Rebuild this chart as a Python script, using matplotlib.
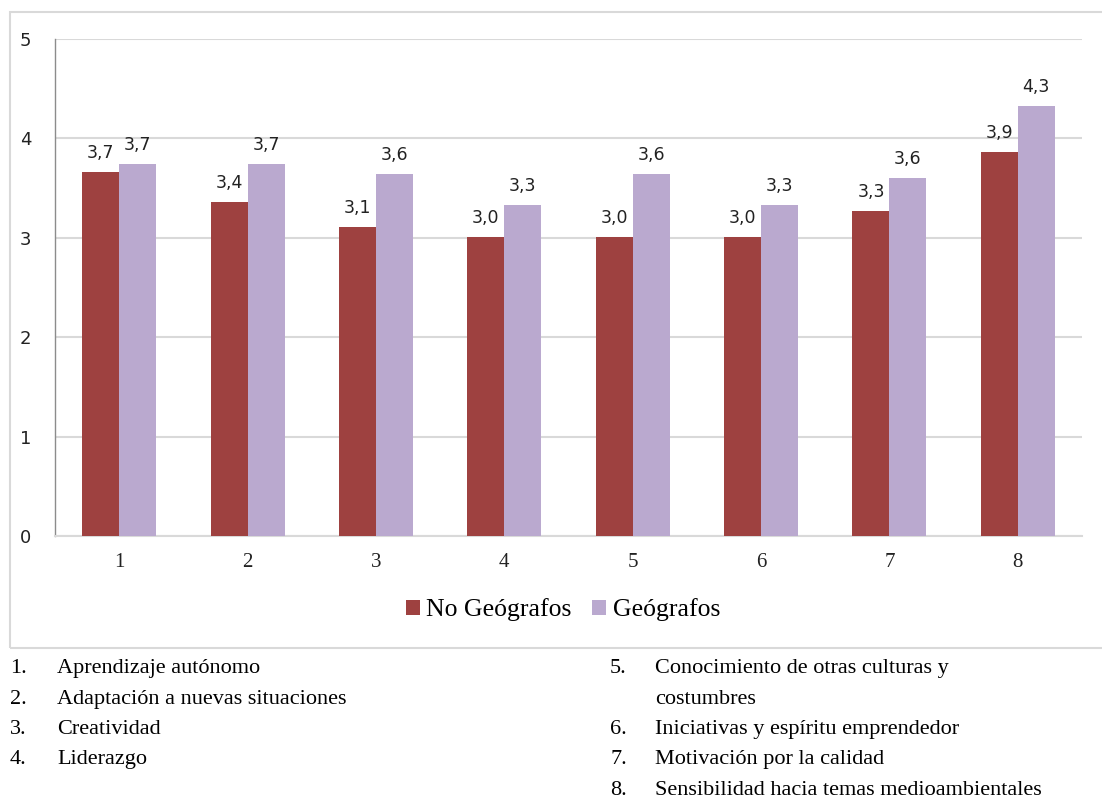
import matplotlib
matplotlib.use("Agg")
import matplotlib.pyplot as plt
from matplotlib.patches import Rectangle, Patch
import numpy as np

categories = ["1", "2", "3", "4", "5", "6", "7", "8"]
no_geografos = [3.66, 3.36, 3.11, 3.01, 3.01, 3.01, 3.27, 3.86]
geografos = [3.74, 3.74, 3.64, 3.33, 3.64, 3.33, 3.60, 4.33]
series_names = ["No Geógrafos", "Geógrafos"]
yticks = [0, 1, 2, 3, 4, 5]
notes_left = ["Aprendizaje autónomo", "Adaptación a nuevas situaciones", "Creatividad", "Liderazgo"]
notes_right = [["Conocimiento de otras culturas y", "costumbres"], ["Iniciativas y espíritu emprendedor"],
               ["Motivación por la calidad"], ["Sensibilidad hacia temas medioambientales"]]

RED = "#9E4140"
PURPLE = "#BAA9CF"
SERIF = ["Liberation Serif", "DejaVu Serif"]
SANS = ["DejaVu Sans"]

fig = plt.figure(figsize=(11.02, 7.98), dpi=100)
W, H = 1102, 798

# outer chart border
fig.patches.append(Rectangle((10 / W, 1 - 648 / H), 1.2, (648 - 12) / H, transform=fig.transFigure,
                             fill=False, edgecolor="#d9d9d9", linewidth=1.5, zorder=0))

ax = fig.add_axes([55 / W, 1 - 536 / H, (1082 - 55) / W, (536 - 39) / H])
x = np.arange(1, len(categories) + 1)
bw = 0.288
b1 = ax.bar(x - bw / 2, no_geografos, bw, color=RED, zorder=3)
b2 = ax.bar(x + bw / 2, geografos, bw, color=PURPLE, zorder=3)

for bars in (b1, b2):
    for rect in bars:
        v = rect.get_height()
        ax.text(rect.get_x() + rect.get_width() / 2, v + 0.1, f"{v:.1f}".replace(".", ","),
                ha="center", va="bottom", fontsize=12.5, family=SANS, color="#222222")

ax.set_xlim(0.5, 8.5)
ax.set_ylim(0, 5)
ax.set_yticks(yticks)
ax.set_yticklabels([str(t) for t in yticks], family=SANS, fontsize=13, color="#222222")
ax.set_xticks(x)
ax.set_xticklabels(categories, family=SERIF, fontsize=15, color="#222222")
ax.tick_params(axis="both", length=0)
ax.tick_params(axis="y", pad=17)
ax.tick_params(axis="x", pad=12)
ax.grid(axis="y", color="#d9d9d9", linewidth=1.5, zorder=0)
ax.set_axisbelow(True)
for s in ["top", "right"]:
    ax.spines[s].set_visible(False)
ax.spines["left"].set_color("#8c8c8c")
ax.spines["left"].set_linewidth(1.0)
ax.spines["bottom"].set_color("#d9d9d9")
ax.spines["bottom"].set_linewidth(1.5)

handles = [Patch(facecolor=RED), Patch(facecolor=PURPLE)]
fig.legend(handles, series_names, loc="center", bbox_to_anchor=(563 / W, 1 - 610 / H), ncol=2,
           frameon=False, prop={"family": SERIF, "size": 18.5}, handlelength=0.55, handleheight=0.55,
           handletextpad=0.25, columnspacing=0.8)

# numbered notes below the chart
ys = [673, 704, 734, 764]
for i, (t, yy) in enumerate(zip(notes_left, ys)):
    fig.text(10 / W, 1 - yy / H, f"{i + 1}.", family=SERIF, fontsize=16, va="baseline", ha="left")
    fig.text(57 / W, 1 - yy / H, t, family=SERIF, fontsize=16, va="baseline", ha="left")
ys_r = [673, 734, 764, 795]
for i, (lines, yy) in enumerate(zip(notes_right, ys_r)):
    fig.text(610 / W, 1 - yy / H, f"{i + 5}.", family=SERIF, fontsize=16, va="baseline", ha="left")
    for j, line in enumerate(lines):
        fig.text(655 / W, 1 - (yy + 31 * j) / H, line, family=SERIF, fontsize=16, va="baseline", ha="left")

fig.savefig("out.png", dpi=100)
